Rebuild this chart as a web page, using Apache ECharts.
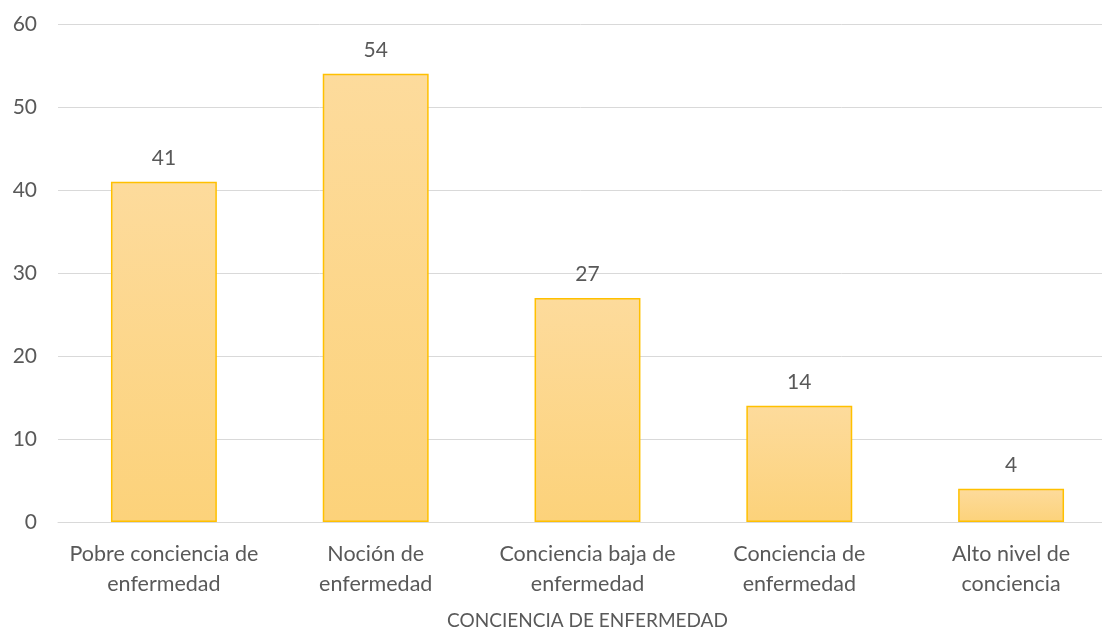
<!DOCTYPE html>
<html>
<head>
<meta charset="utf-8">
<script src="https://cdn.jsdelivr.net/npm/echarts@6/dist/echarts.min.js"></script>
<style>
  html, body { margin: 0; padding: 0; background: #fff; overflow: hidden; }
  #chart { width: 1102px; height: 630px; }
</style>
</head>
<body>
<div id="chart"></div>
<script>
// Categories and counts
const categories = [
  'Pobre conciencia de\nenfermedad',
  'Noción de\nenfermedad',
  'Conciencia baja de\nenfermedad',
  'Conciencia de\nenfermedad',
  'Alto nivel de\nconciencia'
];
const counts = [41, 54, 27, 14, 4];
const axisTitle = 'CONCIENCIA DE ENFERMEDAD';

const FONT = 'Lato, "Open Sans", sans-serif';
const TEXT = '#595959';

const chart = echarts.init(document.getElementById('chart'), null, { renderer: 'canvas' });
chart.setOption({
  animation: false,
  // plot area runs slightly past the right edge of the canvas
  grid: {
    left: 58, width: 1059, top: 24, bottom: 108,
    containLabel: false, outerBoundsMode: 'none'
  },
  xAxis: {
    type: 'category',
    data: categories,
    name: axisTitle,
    nameLocation: 'middle',
    nameGap: 89,
    nameTextStyle: { color: TEXT, fontSize: 19, fontFamily: FONT },
    axisLine: { show: true, lineStyle: { color: '#d9d9d9', width: 1 } },
    axisTick: { show: false },
    axisLabel: { color: TEXT, fontSize: 21.5, fontFamily: FONT, margin: 17, lineHeight: 30, interval: 0 }
  },
  yAxis: {
    type: 'value',
    min: 0, max: 60, interval: 10,
    axisLine: { show: false },
    axisTick: { show: false },
    splitLine: { lineStyle: { color: '#d9d9d9', width: 1 } },
    axisLabel: { color: TEXT, fontSize: 21, fontFamily: FONT, margin: 21 }
  },
  series: [{
    type: 'bar',
    data: counts,
    barWidth: '50%',
    itemStyle: {
      color: new echarts.graphic.LinearGradient(0, 0, 0, 1, [
        { offset: 0, color: '#fddb9c' },
        { offset: 1, color: '#fcd27a' }
      ]),
      borderColor: '#ffc000',
      borderWidth: 1.5
    },
    label: {
      show: true, position: 'top', distance: 13,
      color: TEXT, fontSize: 21, fontFamily: FONT
    }
  }]
});
</script>
</body>
</html>
